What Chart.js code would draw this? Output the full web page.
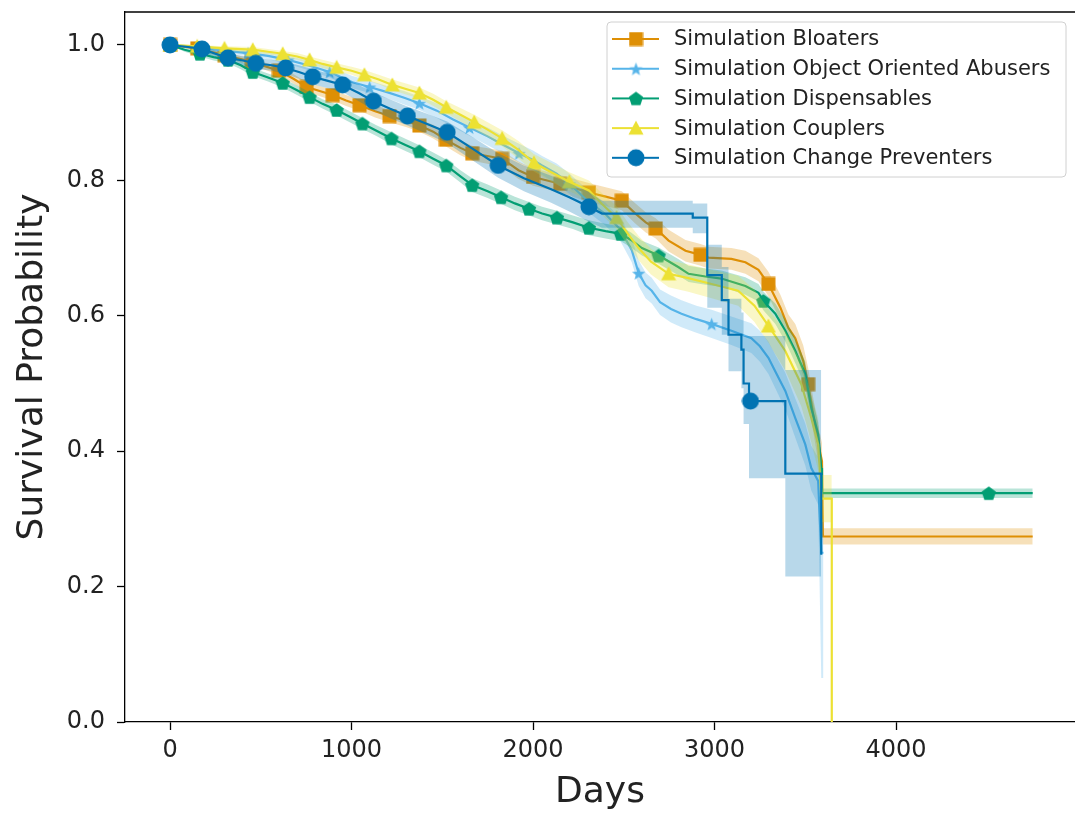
<!DOCTYPE html>
<html>
<head>
<meta charset="utf-8">
<script src="https://cdn.jsdelivr.net/npm/chart.js@4"></script>
<style>
  html, body { margin: 0; padding: 0; background: #fff; overflow: hidden; }
</style>
</head>
<body>
<canvas id="myChart" width="1075" height="817"></canvas>
<script>
// ticks
const dayTicks = [0, 1000, 2000, 3000, 4000];
const probTicks = [0.0, 0.2, 0.4, 0.6, 0.8, 1.0];

// Simulation Bloaters
const bloatersDays = [0,150,300,450,600,680,753,896,970,1044,1130,1209,1300,1374,1450,1520,1600,1665,1830,1920,2000,2150,2308,2400,2489,2560,2621,2676,2747,2840,2923,2967,3093,3170,3242,3297,3363,3407,3445,3489,3516,3540,3565,3592,3597,4753];
const bloatersSurv = [1.000,0.995,0.985,0.975,0.962,0.950,0.938,0.926,0.918,0.911,0.902,0.895,0.888,0.881,0.872,0.860,0.848,0.840,0.832,0.815,0.805,0.795,0.782,0.776,0.770,0.752,0.738,0.729,0.711,0.696,0.690,0.686,0.684,0.679,0.668,0.647,0.612,0.582,0.567,0.533,0.499,0.460,0.420,0.385,0.274,0.274];
const bloatersHigh = [1.000,0.998,0.989,0.980,0.968,0.957,0.945,0.934,0.926,0.919,0.911,0.904,0.897,0.890,0.882,0.870,0.859,0.851,0.844,0.828,0.818,0.808,0.796,0.790,0.784,0.767,0.753,0.744,0.727,0.712,0.706,0.702,0.700,0.696,0.685,0.665,0.631,0.602,0.588,0.556,0.523,0.485,0.446,0.412,0.286,0.286];
const bloatersLow = [1.000,0.992,0.981,0.970,0.956,0.943,0.931,0.918,0.910,0.903,0.893,0.886,0.879,0.872,0.862,0.850,0.837,0.829,0.820,0.802,0.792,0.782,0.768,0.762,0.756,0.737,0.723,0.714,0.695,0.680,0.674,0.670,0.668,0.662,0.651,0.629,0.593,0.562,0.546,0.510,0.475,0.435,0.394,0.358,0.262,0.262];
const bloatersMarks = [0,150,300,450,600,753,896,1044,1209,1374,1520,1665,1830,2000,2150,2308,2489,2676,2923,3297,3516];

// Simulation Object Oriented Abusers
const abusersDays = [0,100,200,320,430,540,650,760,880,1005,1100,1200,1290,1374,1470,1560,1650,1750,1840,1923,2000,2050,2130,2200,2300,2400,2480,2544,2582,2620,2654,2700,2760,2818,2900,2984,3093,3203,3250,3297,3340,3390,3445,3500,3533,3571,3588,3600];
const abusersSurv = [1.000,0.998,0.995,0.991,0.988,0.984,0.978,0.970,0.960,0.945,0.938,0.930,0.922,0.914,0.903,0.890,0.878,0.865,0.852,0.840,0.830,0.822,0.810,0.795,0.770,0.750,0.728,0.697,0.663,0.645,0.637,0.620,0.610,0.603,0.595,0.588,0.578,0.567,0.555,0.538,0.515,0.489,0.449,0.410,0.375,0.356,0.250,0.250];
const abusersHigh = [1.000,1.000,0.998,0.995,0.992,0.989,0.984,0.977,0.968,0.954,0.947,0.939,0.932,0.924,0.914,0.901,0.890,0.878,0.865,0.854,0.844,0.836,0.825,0.810,0.786,0.767,0.745,0.715,0.682,0.664,0.656,0.639,0.630,0.623,0.615,0.609,0.599,0.589,0.578,0.562,0.540,0.516,0.478,0.441,0.408,0.391,0.300,0.300];
const abusersLow = [1.000,0.996,0.992,0.987,0.984,0.979,0.972,0.963,0.952,0.936,0.929,0.921,0.912,0.904,0.892,0.879,0.866,0.852,0.839,0.826,0.816,0.808,0.795,0.780,0.754,0.733,0.711,0.679,0.644,0.626,0.618,0.601,0.590,0.583,0.575,0.567,0.557,0.545,0.532,0.514,0.490,0.462,0.420,0.379,0.342,0.321,0.065,0.065];
const abusersMarks = [0,200,430,650,880,1100,1374,1650,1923,2200,2582,2984];

// Simulation Dispensables
const dispensablesDays = [0,80,165,240,320,390,456,540,621,700,769,840,918,990,1060,1140,1220,1300,1374,1450,1522,1600,1665,1750,1824,1900,1978,2050,2132,2220,2308,2400,2484,2540,2600,2692,2800,2857,2950,3038,3170,3242,3269,3335,3390,3445,3500,3533,3571,3588,3592,4753];
const dispensablesSurv = [1.000,0.993,0.987,0.982,0.978,0.970,0.960,0.952,0.944,0.933,0.923,0.913,0.904,0.894,0.884,0.873,0.862,0.852,0.843,0.832,0.822,0.806,0.793,0.784,0.775,0.766,0.758,0.751,0.745,0.738,0.730,0.725,0.721,0.712,0.700,0.689,0.672,0.662,0.658,0.655,0.644,0.634,0.622,0.603,0.578,0.548,0.514,0.464,0.425,0.375,0.338,0.338];
const dispensablesHigh = [1.000,0.996,0.991,0.987,0.983,0.976,0.966,0.958,0.951,0.940,0.930,0.920,0.912,0.902,0.892,0.881,0.871,0.861,0.852,0.841,0.831,0.815,0.803,0.794,0.785,0.776,0.768,0.761,0.755,0.748,0.741,0.736,0.732,0.723,0.711,0.701,0.684,0.674,0.670,0.667,0.657,0.647,0.636,0.618,0.594,0.566,0.532,0.482,0.443,0.392,0.345,0.345];
const dispensablesLow = [1.000,0.990,0.983,0.977,0.973,0.964,0.954,0.946,0.937,0.926,0.916,0.906,0.896,0.886,0.876,0.865,0.853,0.843,0.834,0.823,0.813,0.797,0.783,0.774,0.765,0.756,0.748,0.741,0.735,0.728,0.719,0.714,0.710,0.701,0.689,0.677,0.660,0.650,0.646,0.643,0.631,0.621,0.608,0.588,0.562,0.530,0.496,0.446,0.407,0.358,0.331,0.331];
const dispensablesMarks = [0,165,320,456,621,769,918,1060,1220,1374,1522,1665,1824,1978,2132,2308,2484,2692,3269,4511];

// Simulation Couplers
const couplersDays = [0,150,300,456,540,621,700,769,840,918,1000,1071,1150,1225,1300,1374,1450,1522,1600,1676,1750,1830,1920,2005,2100,2200,2308,2380,2460,2520,2582,2650,2747,2850,2984,3130,3220,3297,3340,3390,3440,3478,3510,3533,3571,3590,3646,3646];
const couplersSurv = [1.000,0.998,0.995,0.993,0.990,0.987,0.983,0.978,0.972,0.967,0.962,0.956,0.949,0.941,0.935,0.929,0.919,0.908,0.897,0.886,0.875,0.862,0.845,0.826,0.812,0.798,0.785,0.765,0.745,0.722,0.700,0.680,0.662,0.656,0.647,0.637,0.615,0.585,0.568,0.548,0.520,0.499,0.470,0.449,0.410,0.330,0.330,0.000];
const couplersHigh = [1.000,1.000,0.998,0.997,0.994,0.991,0.988,0.983,0.978,0.973,0.968,0.963,0.956,0.949,0.943,0.937,0.928,0.917,0.907,0.897,0.886,0.874,0.858,0.839,0.826,0.812,0.800,0.781,0.762,0.739,0.718,0.699,0.682,0.676,0.668,0.659,0.639,0.610,0.595,0.577,0.551,0.532,0.504,0.485,0.449,0.365,0.365,0.020];
const couplersLow = [1.000,0.996,0.992,0.989,0.986,0.983,0.978,0.973,0.966,0.961,0.956,0.949,0.942,0.933,0.927,0.921,0.910,0.899,0.887,0.875,0.864,0.850,0.832,0.813,0.798,0.784,0.770,0.749,0.728,0.705,0.682,0.661,0.642,0.636,0.626,0.615,0.591,0.560,0.541,0.519,0.489,0.466,0.436,0.413,0.371,0.295,0.295,0.000];
const couplersMarks = [0,150,300,456,621,769,918,1071,1225,1374,1522,1676,1830,2005,2200,2460,2747,3297];

// Simulation Change Preventers
const preventersDays = [0,100,176,250,319,400,473,560,637,710,786,870,951,1040,1121,1210,1308,1420,1527,1660,1808,1950,2100,2200,2308,2380,2880,2880,2960,2960,3040,3040,3077,3077,3148,3148,3160,3160,3190,3190,3390,3390,3588,3588];
const preventersSurv = [1.000,0.997,0.994,0.987,0.981,0.977,0.973,0.970,0.966,0.960,0.953,0.947,0.941,0.929,0.917,0.906,0.895,0.883,0.871,0.848,0.822,0.803,0.787,0.775,0.761,0.751,0.751,0.745,0.745,0.660,0.660,0.623,0.623,0.572,0.572,0.550,0.550,0.500,0.500,0.474,0.474,0.367,0.367,0.247];
const preventersHigh = [1.000,0.999,0.998,0.992,0.987,0.984,0.981,0.978,0.975,0.970,0.964,0.958,0.952,0.941,0.930,0.920,0.909,0.898,0.887,0.865,0.840,0.822,0.807,0.796,0.783,0.770,0.770,0.766,0.766,0.705,0.705,0.672,0.672,0.625,0.625,0.605,0.605,0.570,0.570,0.570,0.570,0.520,0.520,0.520];
const preventersLow = [1.000,0.995,0.990,0.982,0.975,0.970,0.965,0.962,0.957,0.950,0.942,0.936,0.930,0.917,0.904,0.892,0.881,0.868,0.855,0.831,0.804,0.784,0.767,0.754,0.739,0.730,0.730,0.722,0.722,0.612,0.612,0.572,0.572,0.518,0.518,0.493,0.493,0.440,0.440,0.360,0.360,0.215,0.215,0.215];
const preventersMarks = [0,176,319,473,637,786,951,1121,1308,1527,1808,2308,3198];

const FONT = "'DejaVu Sans', sans-serif";

// маркеры как у matplotlib
function markerCanvas(shape, color, size) {
  const c = document.createElement("canvas");
  c.width = size;
  c.height = size;
  const g = c.getContext("2d");
  const m = size / 2;
  g.fillStyle = color;
  g.beginPath();
  if (shape === "circle") {
    g.arc(m, m, m - 0.5, 0, Math.PI * 2);
  } else if (shape === "square") {
    g.rect(0.5, 0.5, size - 1, size - 1);
  } else if (shape === "triangle") {
    g.moveTo(m, 0.5);
    g.lineTo(size - 0.5, size - 1.5);
    g.lineTo(0.5, size - 1.5);
    g.closePath();
  } else if (shape === "pentagon") {
    for (let k = 0; k < 5; k++) {
      const a = -Math.PI / 2 + (k * 2 * Math.PI) / 5;
      g.lineTo(m + (m - 0.5) * Math.cos(a), m + (m - 0.5) * Math.sin(a) + 0.8);
    }
    g.closePath();
  } else if (shape === "star") {
    for (let k = 0; k < 10; k++) {
      const a = -Math.PI / 2 + (k * Math.PI) / 5;
      const r = k % 2 === 0 ? m - 0.5 : (m - 0.5) * 0.42;
      g.lineTo(m + r * Math.cos(a), m + r * Math.sin(a) + 0.8);
    }
    g.closePath();
  }
  g.fill();
  return c;
}

function legendHandle(marker, color) {
  const c = document.createElement("canvas");
  c.width = 48;
  c.height = 22;
  const g = c.getContext("2d");
  g.strokeStyle = color;
  g.lineWidth = 2.2;
  g.beginPath();
  g.moveTo(0, 11);
  g.lineTo(47, 11);
  g.stroke();
  g.drawImage(marker, 24 - marker.width / 2, 11 - marker.height / 2);
  return c;
}

function hexA(hex, a) {
  const n = parseInt(hex.slice(1), 16);
  return "rgba(" + (n >> 16) + "," + ((n >> 8) & 255) + "," + (n & 255) + "," + a + ")";
}

// значение кривой в момент d (последняя точка не позже d)
function valueAt(days, vals, d) {
  let k = 0;
  for (let i = 0; i < days.length; i++) if (days[i] <= d) k = i;
  return vals[k];
}

const series = [
  { label: "Simulation Bloaters", color: "#DE8F05", shape: "square", size: 15,
    days: bloatersDays, surv: bloatersSurv, hi: bloatersHigh, lo: bloatersLow, marks: bloatersMarks },
  { label: "Simulation Object Oriented Abusers", color: "#56B4E9", shape: "star", size: 15,
    days: abusersDays, surv: abusersSurv, hi: abusersHigh, lo: abusersLow, marks: abusersMarks },
  { label: "Simulation Dispensables", color: "#029E73", shape: "pentagon", size: 16,
    days: dispensablesDays, surv: dispensablesSurv, hi: dispensablesHigh, lo: dispensablesLow, marks: dispensablesMarks },
  { label: "Simulation Couplers", color: "#ECE133", shape: "triangle", size: 16,
    days: couplersDays, surv: couplersSurv, hi: couplersHigh, lo: couplersLow, marks: couplersMarks },
  { label: "Simulation Change Preventers", color: "#0173B2", shape: "circle", size: 18,
    days: preventersDays, surv: preventersSurv, hi: preventersHigh, lo: preventersLow, marks: preventersMarks },
];

const datasets = [];
series.forEach((s, i) => {
  s.markerImg = markerCanvas(s.shape, s.color, s.size);
  s.handle = legendHandle(s.markerImg, s.color);
  const base = 100 - i * 10;
  const pts = (arr) => s.days.map((d, k) => ({ x: d, y: arr[k] }));
  // доверительный интервал
  datasets.push({
    label: s.label + " upper", data: pts(s.hi), fill: "+1",
    backgroundColor: hexA(s.color, 0.28), borderColor: "transparent", borderWidth: 0,
    pointRadius: 0, order: base + 2,
  });
  datasets.push({
    label: s.label + " lower", data: pts(s.lo), fill: false,
    borderColor: "transparent", borderWidth: 0, pointRadius: 0, order: base + 2,
  });
  // кривая выживаемости
  datasets.push({
    label: s.label, data: pts(s.surv), fill: false,
    borderColor: s.color, borderWidth: 2.2, pointRadius: 0, order: base + 1,
  });
  // маркеры
  datasets.push({
    label: s.label + " markers",
    data: s.marks.map((d) => ({ x: d, y: valueAt(s.days, s.surv, d) })),
    showLine: false, pointStyle: s.markerImg, pointRadius: 6,
    borderColor: s.color, backgroundColor: s.color, order: base,
  });
});

const frame = {
  id: "frame",
  afterDatasetsDraw(chart) {
    const { ctx, chartArea } = chart;
    ctx.save();
    ctx.strokeStyle = "#000";
    ctx.lineWidth = 1.3;
    ctx.beginPath();
    ctx.moveTo(chartArea.left, chartArea.top);
    ctx.lineTo(chartArea.right, chartArea.top);
    ctx.stroke();
    ctx.restore();
  },
};

const insideLegend = {
  id: "insideLegend",
  afterDraw(chart) {
    const { ctx, chartArea } = chart;
    const left = chartArea.left + 482;
    const top = chartArea.top + 10;
    const w = 459, h = 155, r = 4;
    ctx.save();
    ctx.beginPath();
    ctx.moveTo(left + r, top);
    ctx.lineTo(left + w - r, top);
    ctx.quadraticCurveTo(left + w, top, left + w, top + r);
    ctx.lineTo(left + w, top + h - r);
    ctx.quadraticCurveTo(left + w, top + h, left + w - r, top + h);
    ctx.lineTo(left + r, top + h);
    ctx.quadraticCurveTo(left, top + h, left, top + h - r);
    ctx.lineTo(left, top + r);
    ctx.quadraticCurveTo(left, top, left + r, top);
    ctx.closePath();
    ctx.fillStyle = "rgba(255,255,255,0.8)";
    ctx.fill();
    ctx.strokeStyle = "#d0d0d0";
    ctx.lineWidth = 1;
    ctx.stroke();
    ctx.font = "21px " + FONT;
    ctx.fillStyle = "#222";
    ctx.textBaseline = "middle";
    series.forEach((s, i) => {
      const cy = top + 17 + i * 29.7;
      ctx.drawImage(s.handle, left + 5, cy - s.handle.height / 2);
      ctx.fillText(s.label, left + 67, cy + 1);
    });
    ctx.restore();
  },
};

const ctx = document.getElementById("myChart").getContext("2d");
const myChart = new Chart(ctx, {
  type: "line",
  data: { datasets: datasets },
  plugins: [frame, insideLegend],
  options: {
    responsive: false,
    animation: false,
    devicePixelRatio: 1,
    events: [],
    layout: { autoPadding: false, padding: { left: 0, right: 0, top: 12, bottom: 0 } },
    plugins: {
      legend: { display: false },
      tooltip: { enabled: false },
    },
    scales: {
      x: {
        type: "linear",
        min: -248,
        max: 4986,
        afterBuildTicks: (scale) => { scale.ticks = dayTicks.map((v) => ({ value: v })); },
        afterFit: (scale) => {
          scale.height = 95;
          scale.paddingLeft = 0;
          scale.paddingRight = 0;
        },
        grid: { drawOnChartArea: false, drawTicks: true, tickLength: 8, tickWidth: 1.3, tickColor: "#000" },
        border: { display: true, color: "#000", width: 1.3 },
        ticks: {
          font: { family: FONT, size: 24 },
          color: "#222",
          padding: 6,
          maxRotation: 0,
          callback: (v) => String(v),
        },
        title: {
          display: true,
          text: "Days",
          font: { family: FONT, size: 36 },
          color: "#222",
          padding: { top: 0, bottom: 3 },
        },
      },
      y: {
        type: "linear",
        min: 0,
        max: 1.0487,
        afterBuildTicks: (scale) => { scale.ticks = probTicks.map((v) => ({ value: v })); },
        afterFit: (scale) => {
          scale.width = 125;
          scale.paddingTop = 0;
          scale.paddingBottom = 0;
        },
        grid: { drawOnChartArea: false, drawTicks: true, tickLength: 8, tickWidth: 1.3, tickColor: "#000" },
        border: { display: true, color: "#000", width: 1.3 },
        ticks: {
          font: { family: FONT, size: 24 },
          color: "#222",
          padding: 12,
          callback: (v) => v.toFixed(1),
        },
        title: {
          display: true,
          text: "Survival Probability",
          font: { family: FONT, size: 36 },
          color: "#222",
          padding: { top: 11, bottom: 0 },
        },
      },
    },
  },
});
</script>
</body>
</html>
